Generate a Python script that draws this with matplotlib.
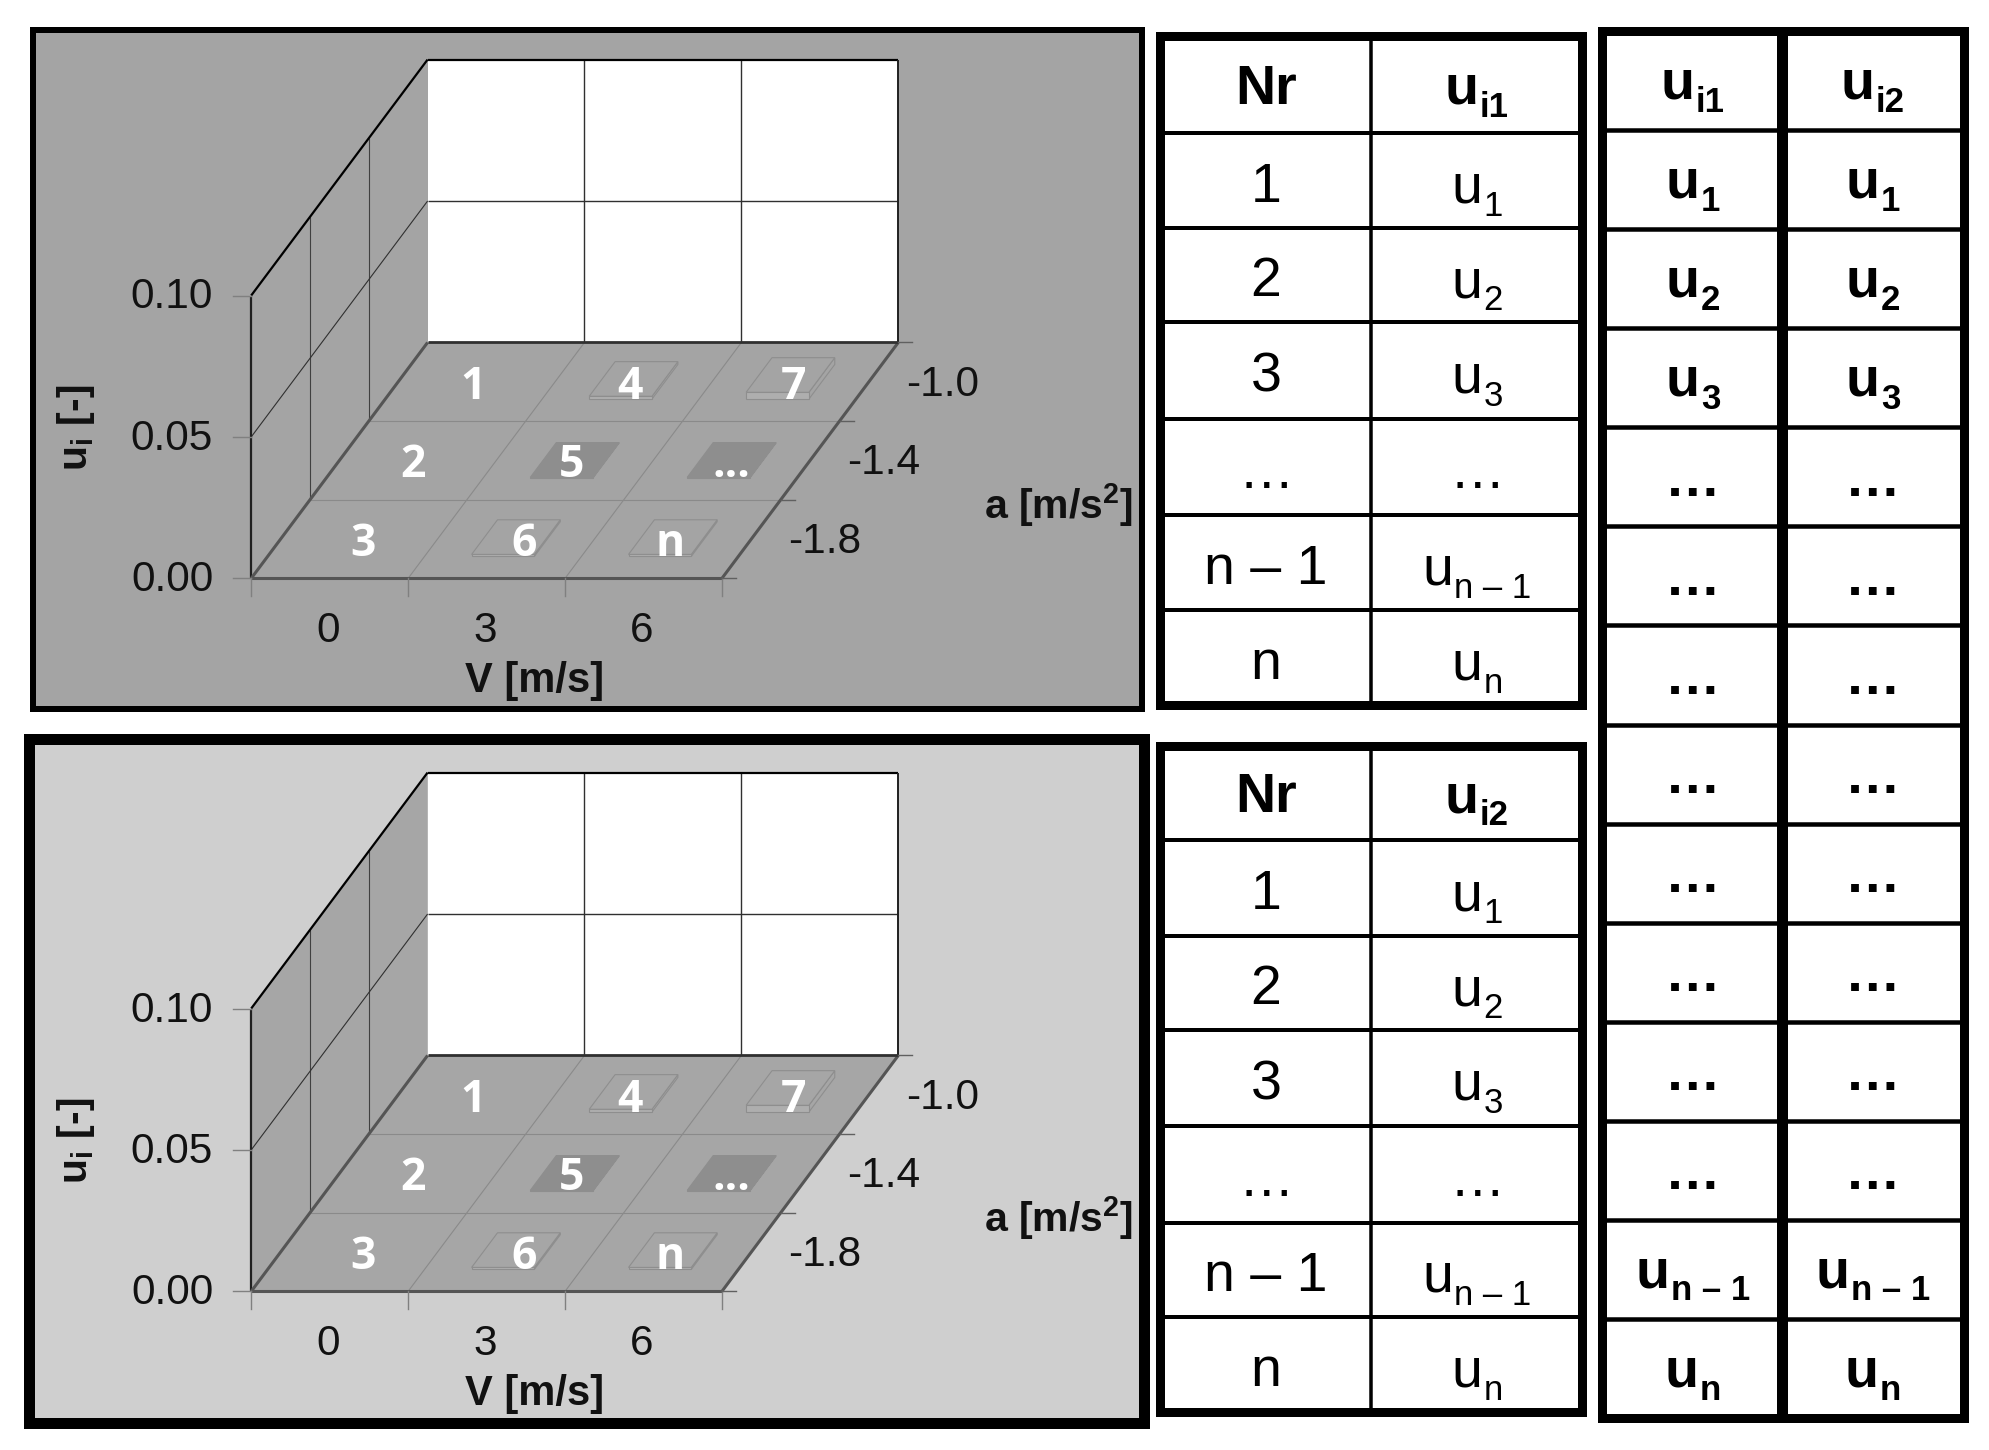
import numpy as np
import matplotlib
matplotlib.use('Agg')
import matplotlib.pyplot as plt
from matplotlib.patches import Polygon, Rectangle

plt.rcParams['font.family'] = ['Liberation Sans', 'DejaVu Sans']
plt.rcParams['mathtext.fontset'] = 'custom'
plt.rcParams['mathtext.rm'] = 'Liberation Sans'
plt.rcParams['mathtext.bf'] = 'Liberation Sans:bold'

# chart values
v_labels = ['0', '3', '6']
a_labels = ['-1.8', '-1.4', '-1.0']
u_ticks = [0.00, 0.05, 0.10]
u_tick_labels = ['0.00', '0.05', '0.10']
cell_v = [0, 0, 0, 1, 1, 1, 2, 2, 2]
cell_a = [2, 1, 0, 2, 1, 0, 2, 1, 0]
cell_names = ['1', '2', '3', '4', '5', '6', '7', '...', 'n']
cell_u = [0, 0, 0, 0.001, 0.0002, 0.0007, 0.0024, 0.0002, 0.0007]
cell_dark = [False, False, False, False, True, False, False, True, False]

# table text, subscripts split from the u
nr_col = ['1', '2', '3', '…', 'n – 1', 'n']
sub_col = ['1', '2', '3', None, 'n – 1', 'n']
wide_col = ['1', '2', '3', None, None, None, None, None, None, None, None, 'n – 1', 'n']


def project(v, a, u, y0):
    return 251.2 + 156.9 * v + 58.8 * a, y0 - 78.65 * a - 2829 * u


fig = plt.figure(figsize=(19.89, 14.5), dpi=100, facecolor='white')
ax = fig.add_axes([0, 0, 1, 1])
ax.set_xlim(0, 1989)
ax.set_ylim(1450, 0)
ax.axis('off')
renderer = fig.canvas.get_renderer()


def quad(points, y0, **kw):
    ax.add_patch(Polygon([project(p[0], p[1], p[2], y0) for p in points], closed=True, **kw))


def seg(p, q, y0, color, lw):
    a = project(p[0], p[1], p[2], y0)
    b = project(q[0], q[1], q[2], y0)
    ax.plot([a[0], b[0]], [a[1], b[1]], color=color, lw=lw, solid_capstyle='butt')


def u_text(xc, y, sub, weight='normal'):
    # u with a dropped subscript, both centred together on xc
    base = ax.text(xc, y, 'u', fontsize=40, fontweight=weight, ha='left', va='baseline')
    low = ax.text(xc, y + 13, sub, fontsize=25, fontweight=weight, ha='left', va='baseline')
    w1 = base.get_window_extent(renderer).width
    w2 = low.get_window_extent(renderer).width
    left = xc - 0.5 * (w1 + w2 + 1)
    base.set_x(left)
    low.set_x(left + w1 + 1)


def chart(y0, frame, border, face, wall):
    ax.add_patch(Rectangle((frame[0], frame[1]), frame[2] - frame[0], frame[3] - frame[1], fc='black', ec='none'))
    ax.add_patch(Rectangle((frame[0] + border, frame[1] + border), frame[2] - frame[0] - 2 * border,
                           frame[3] - frame[1] - 2 * border, fc=face, ec='none'))
    top = u_ticks[-1]
    quad([(0, 3, 0), (3, 3, 0), (3, 3, top), (0, 3, top)], y0, fc='white', ec='none')
    quad([(0, 0, 0), (0, 3, 0), (0, 3, top), (0, 0, top)], y0, fc=wall, ec='none')
    quad([(0, 0, 0), (3, 0, 0), (3, 3, 0), (0, 3, 0)], y0, fc=wall, ec='none')

    # grid
    for i in [1, 2]:
        seg((i, 3, 0), (i, 3, top), y0, '#303030', 1.0)
        seg((0, i, 0), (0, i, top), y0, '#404040', 0.8)
        seg((i, 0, 0), (i, 3, 0), y0, '#8a8a8a', 0.8)
        seg((0, i, 0), (3, i, 0), y0, '#8a8a8a', 0.8)
    seg((0, 0, 0.05), (0, 3, 0.05), y0, '#303030', 0.8)
    seg((0, 3, 0.05), (3, 3, 0.05), y0, '#303030', 1.0)

    # box edges
    seg((0, 0, top), (0, 3, top), y0, 'black', 1.6)
    seg((0, 3, top), (3, 3, top), y0, 'black', 1.6)
    seg((3, 3, 0), (3, 3, top), y0, '#202020', 1.4)
    seg((0, 0, 0), (0, 0, top), y0, '#202020', 1.6)
    seg((0, 0, 0), (3, 0, 0), y0, '#555555', 2.2)
    seg((0, 0, 0), (0, 3, 0), y0, '#555555', 2.2)
    seg((3, 0, 0), (3, 3, 0), y0, '#555555', 2.2)
    seg((0, 3, 0), (3, 3, 0), y0, '#303030', 2.0)

    # ticks
    for u, lab in zip(u_ticks, u_tick_labels):
        x, y = project(0, 0, u, y0)
        ax.plot([x - 18, x], [y, y], color='#808080', lw=1.0)
        ax.text(x - 38, y + 2, lab, fontsize=30.5, ha='right', va='center', color='#111111')
    for i in range(4):
        x, y = project(i, 0, 0, y0)
        ax.plot([x, x], [y, y + 18], color='#808080', lw=1.0)
    for i, lab in enumerate(v_labels):
        x, y = project(i, 0, 0, y0)
        ax.text(x + 77, y + 53, lab, fontsize=30.5, ha='center', va='center', color='#111111')
    for i in range(4):
        x, y = project(3, i, 0, y0)
        ax.plot([x, x + 14], [y, y], color='#606060', lw=1.0)
    for i, lab in enumerate(a_labels):
        x, y = project(3, i + 0.5, 0, y0)
        ax.text(x + 37, y + 3, lab, fontsize=30.5, ha='left', va='center', color='#111111')

    # the white names do not sit exactly in the cell middle
    name_dx = [-4, -5, 4, -4, -3, 8, 3, 0, -3]
    for k in range(len(cell_names)):
        v, a, u, dark = cell_v[k], cell_a[k], cell_u[k], cell_dark[k]
        x1, x2, a1, a2 = v + 0.3, v + 0.7, a + 0.28, a + 0.72
        if u > 0:
            edge = '#8e8e8e'
            fill = '#8e8e8e' if dark else wall
            side = '#8e8e8e' if dark else '#aeaeae'
            quad([(x2, a1, 0), (x2, a2, 0), (x2, a2, u), (x2, a1, u)], y0, fc=wall, ec=edge, lw=0.8)
            quad([(x1, a1, 0), (x2, a1, 0), (x2, a1, u), (x1, a1, u)], y0, fc=side, ec=edge, lw=0.8)
            quad([(x1, a1, u), (x2, a1, u), (x2, a2, u), (x1, a2, u)], y0, fc=fill, ec=edge, lw=0.8)
        x, y = project(v + 0.5, a + 0.5, 0, y0)
        ax.text(x + name_dx[k], y + 17, cell_names[k], fontsize=32, fontweight='bold', family='Open Sans',
                color='white', ha='center', va='baseline')

    ax.text(535, y0 + 103, 'V [m/s]', fontsize=30, fontweight='bold', ha='center', va='center', color='#111111')
    ax.text(76, y0 - 151, r'$\mathbf{u_{i}}$ [-]', fontsize=29.5, fontweight='bold', rotation=90, ha='center',
            va='center', color='#111111')
    ax.text(1059, y0 - 73, r'a [m/s$\mathbf{^{2}}$]', fontsize=29.5, fontweight='bold', ha='center', va='center',
            color='#111111')


def table(x, y, outer, lw, mid_lw):
    # x: left, middle, right / y: row lines incl. outer top and bottom
    ax.add_patch(Rectangle((x[0], y[0]), x[-1] - x[0], y[-1] - y[0], fc='white', ec='black', lw=outer * 0.72))
    ax.hlines(y[1:-1], x[0], x[-1], color='black', lw=lw * 0.72)
    ax.vlines(x[1:-1], y[0], y[-1], color='black', lw=mid_lw * 0.72)


def small_table(y, head, col_a, col_b):
    xs = [1160, 1371, 1582]
    table(xs, y, 9, 4, 3.5)
    rows = [0.5 * (y[k] + y[k + 1]) for k in range(len(y) - 1)]
    ax.text(1266, rows[0] + 19, 'Nr', fontsize=40, fontweight='bold', ha='center', va='baseline')
    u_text(1477, rows[0] + 19, head, 'bold')
    for k in range(len(col_a)):
        r = rows[k + 1]
        ax.text(1266, r + 21, col_a[k], fontsize=40, ha='center', va='baseline')
        if col_b[k] is None:
            ax.text(1477, r + 21, '…', fontsize=40, ha='center', va='baseline')
        else:
            u_text(1477, r + 22, col_b[k])


chart(578.4, (30, 27, 1145, 712), 6, '#a4a4a4', '#a4a4a4')
chart(1291.4, (24, 734, 1150, 1429), 11, '#cfcfcf', '#a6a6a6')

small_table([36, 133, 228, 322, 419, 515, 610, 705], 'i1', nr_col, sub_col)
small_table([746, 840, 936, 1030, 1126, 1223, 1317, 1412], 'i2', nr_col, sub_col)

# wide table
ys = [31] + list(np.linspace(130, 1319, 13)) + [1418]
table([1602, 1782, 1964], ys, 9, 4.5, 11)
rows = [0.5 * (ys[k] + ys[k + 1]) for k in range(len(ys) - 1)]
for xc, head in zip([1693, 1873], ['i1', 'i2']):
    u_text(xc, rows[0] + 18, head, 'bold')
    for r, lab in zip(rows[1:], wide_col):
        if lab is None:
            ax.text(xc, r + 19, '…', fontsize=40, fontweight='bold', ha='center', va='baseline')
        else:
            u_text(xc, r + 18, lab, 'bold')

fig.savefig('out.png', dpi=100)
